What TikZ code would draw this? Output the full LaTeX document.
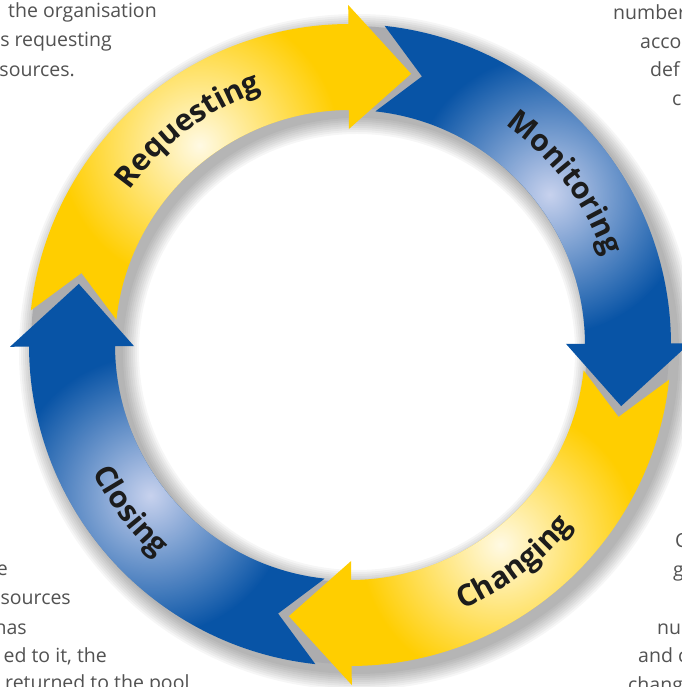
\documentclass[tikz,border=0pt]{standalone}
\usepackage{fontspec}
\setmainfont{Open Sans}
\setsansfont{Open Sans}
\usetikzlibrary{decorations.text,fadings}

\definecolor{ringyellow}{RGB}{255,206,0}
\definecolor{ringcream}{RGB}{255,250,228}
\definecolor{ringblue}{RGB}{8,84,166}
\definecolor{ringpale}{RGB}{200,210,238}
\definecolor{gapgray}{RGB}{172,172,174}
\definecolor{bodygray}{RGB}{82,82,82}
\definecolor{labelblack}{RGB}{28,28,28}
\tikzfading[name=glow, inner color=transparent!0, outer color=transparent!100]
\newcommand{\labelfont}{\bfseries\fontsize{30}{30}\selectfont}

\begin{document}
\begin{tikzpicture}[x=1pt,y=1pt,
  bodytext/.style={text=bodygray, font=\fontsize{19.5}{19.5}\selectfont, inner sep=0pt},
  ringlabel/.style={decorate, decoration={text along path, text align=center,
    text color=labelblack, text={|\labelfont|#1}}}]
\fill[white] (0,0) rectangle (681,687);
\useasboundingbox (0,0) rectangle (681,687);
\coordinate (O) at (350,342);

% soft shadow under the ring
\foreach \w in {88,92,...,120}
  \draw[black, opacity=0.035, line width=\w] (357,335) circle (278);
\fill[gapgray, even odd rule] (O) circle (319) (O) circle (237);

\begin{scope}[shift={(O)}]
% tail angle / fill / highlight / highlight angle
\foreach \a/\col/\hl/\g in {167.3/ringyellow/ringcream/127, 77.3/ringblue/ringpale/37,
    -12.7/ringyellow/ringcream/-53, -102.7/ringblue/ringpale/-143}{
  \pgfmathsetmacro{\b}{\a-90}
  \path[save path=\arrowpath] (\a-2.3:278) -- (\a+6.5:321)
    arc[start angle=\a+6.5, end angle=\b+13, radius=321] -- (\b+13:340) -- (\b:278)
    -- (\b+13:216) -- (\b+13:235) arc[start angle=\b+13, end angle=\a+6.5, radius=235] -- cycle;
  \fill[\col, use path=\arrowpath];
  \begin{scope}
    \clip[use path=\arrowpath];
    \fill[\hl, path fading=glow] (\g:250) circle (140);
  \end{scope}
}
\path[ringlabel=Requesting] (160:269) arc[start angle=160, end angle=94, radius=269];
\path[ringlabel=Monitoring] (70:269) arc[start angle=70, end angle=4, radius=269];
\path[ringlabel=Changing] (-86:287) arc[start angle=-86, end angle=-20, radius=287];
\path[ringlabel=Closing] (-176:287) arc[start angle=-176, end angle=-110, radius=287];
\end{scope}

% text cut by the edges
\node[bodytext, anchor=base west] (orgline) at (8,669) {the organisation};
\node[bodytext, anchor=base east] (reqline) at (112,640) {s requesting};
\node[bodytext, anchor=base east] (resline) at (75,610) {sources.};
\node[bodytext, anchor=base west] (numline) at (613,667.5) {number};
\node[bodytext, anchor=base west] (accline) at (640,638) {acco};
\node[bodytext, anchor=base west] (defline) at (650,610) {def};
\node[bodytext, anchor=base west] (cline) at (672,581) {c};
\node[bodytext, anchor=base east] (eline) at (8,111) {e};
\node[bodytext, anchor=base east] (srcline) at (71,82) {sources};
\node[bodytext, anchor=base east] (hasline) at (27,52) {has};
\node[bodytext, anchor=base east] (itline) at (107,24) {ed to it, the};
\node[bodytext, anchor=base west] (poolline) at (5,-2.5) {returned to the pool};
\node[bodytext, anchor=base west] (bigcline) at (675,139) {C};
\node[bodytext, anchor=base west] (gline) at (673,110) {g};
\node[bodytext, anchor=base west] (nuline) at (657,52) {nu};
\node[bodytext, anchor=base west] (andline) at (638,24) {and c};
\node[bodytext, anchor=base west] (changline) at (628,-5) {chang};
\end{tikzpicture}
\end{document}
